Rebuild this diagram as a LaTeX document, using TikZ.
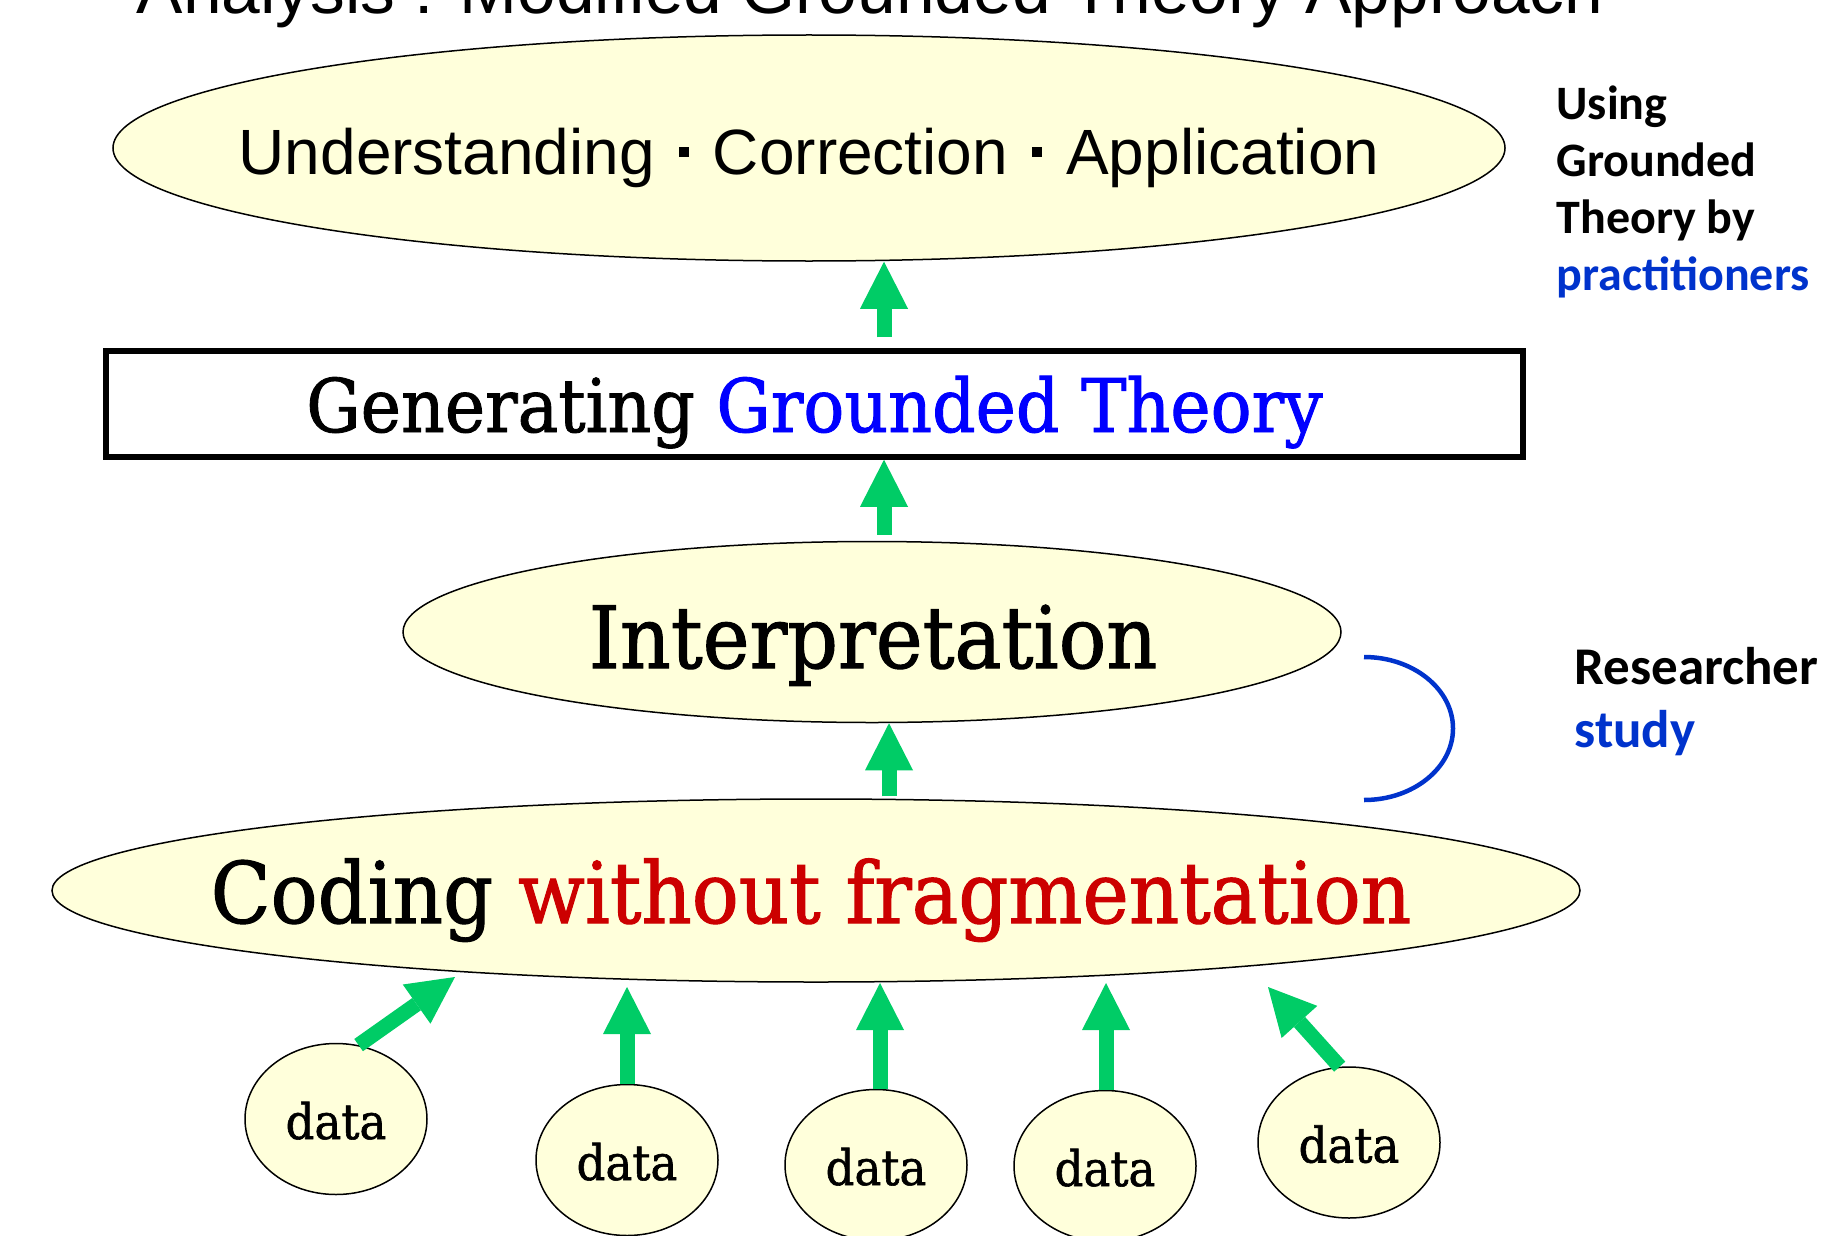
\documentclass[tikz,border=0pt]{standalone}
\usepackage{fontspec}
\setmainfont{DejaVu Serif}
\newfontfamily\schoolfont[FakeStretch=0.92, FakeBold=1.2]{DejaVu Serif}
\newfontfamily\arialfont{Liberation Sans}
\newfontfamily\calfont{Carlito}
\usetikzlibrary{arrows.meta, shapes.geometric, calc}

\definecolor{paleyellow}{HTML}{FFFFDB}
\definecolor{arrowgreen}{HTML}{00CC66}
\definecolor{studyblue}{HTML}{0033CC}
\definecolor{fragred}{HTML}{CC0000}

\newcommand{\sqsep}{\hspace{24pt}\raisebox{17pt}{\rule{10pt}{10pt}}\hspace{24pt}}

\begin{document}
\begin{tikzpicture}[x=1pt, y=-1pt,
    bubble/.style={ellipse, draw, fill=paleyellow, line width=1.5pt, inner sep=0pt},
    uparrow/.style={arrowgreen, line width=15pt,
        -{Triangle[width=48pt, length=47pt, line width=0pt]}},
    sidenote/.style={anchor=base west, align=left}]
        \useasboundingbox (0,0) rectangle (1822,1236);
        \clip (0,0) rectangle (1822,1236);

        % title, cut off by the top edge
        \node[anchor=base, font=\arialfont\fontsize{69.5}{75}\selectfont] (title) at (870,14)
            {Analysis : Modified Grounded Theory Approach};

        % levels
        \node[bubble, minimum width=1392pt, minimum height=226pt] (use) at (809,148) {};
        \node[anchor=base, font=\arialfont\fontsize{64}{70}\selectfont] (usetext) at (809,174)
            {Understanding\sqsep Correction\sqsep Application};

        \node[draw, line width=5.5pt, minimum width=1417pt, minimum height=106pt, inner sep=0pt,
            text height=56pt, text depth=0pt, font=\schoolfont\fontsize{74}{80}\selectfont]
            (gen) at (814.5,404) {Generating \textcolor{blue}{Grounded Theory}};

        \node[bubble, minimum width=938pt, minimum height=181pt] (interp) at (872,632) {};
        \node[anchor=base, font=\schoolfont\fontsize{86}{90}\selectfont] (interptext) at (873,668)
            {Interpretation};

        \node[bubble, minimum width=1528pt, minimum height=183pt] (coding) at (816,890.5) {};
        \node[anchor=base, font=\schoolfont\fontsize{85}{90}\selectfont] (codingtext) at (811,923)
            {Coding \textcolor{fragred}{without fragmentation}};

        % data
        \foreach \name/\x/\y in {d1/336/1119, d2/627/1160, d3/876/1165, d4/1105/1166, d5/1349/1142.5}
            \node[bubble, minimum width=182pt, minimum height=151pt, text height=40pt, text depth=0pt,
                font=\schoolfont\fontsize{49}{50}\selectfont] (\name) at (\x,\y) {data};

        % arrow tips and columns
        \coordinate (ax) at (884,0);
        \coordinate (bx) at (889,0);
        \coordinate (t1) at (455,977);
        \coordinate (t2) at (627,987);
        \coordinate (t3) at (880,983);
        \coordinate (t4) at (1106,983);
        \coordinate (t5) at (1268,987);

        \draw[uparrow, shorten <=11pt] (gen.north -| ax) -- (use.south -| ax);
        \draw[uparrow, shorten <=6pt] (interp.north -| ax) -- (gen.south -| ax);
        \draw[uparrow, shorten <=2pt] (coding.north -| bx) -- (interp.south -| bx);

        \draw[uparrow] (d1.73) -- (t1);
        \draw[uparrow] (t2 |- d2.north) -- (t2);
        \draw[uparrow] (t3 |- d3.north) -- (t3);
        \draw[uparrow] (t4 |- d4.north) -- (t4);
        \draw[uparrow] (d5.97) -- (t5);

        % researcher bracket
        \coordinate (brtop) at (1364,657);
        \draw[studyblue, line width=4.5pt] (brtop) arc[start angle=-90, end angle=90, x radius=89, y radius=71.5];

        % base anchor sits on the last line
        \node[sidenote, font=\calfont\bfseries\fontsize{48}{57}\selectfont] (using) at (1553,290)
            {Using\\Grounded\\Theory by\\\textcolor{studyblue}{practitioners}};
        \node[sidenote, font=\calfont\bfseries\fontsize{53}{63}\selectfont] (researcher) at (1571,747)
            {Researcher\\\textcolor{studyblue}{study}};
    \end{tikzpicture}
\end{document}
